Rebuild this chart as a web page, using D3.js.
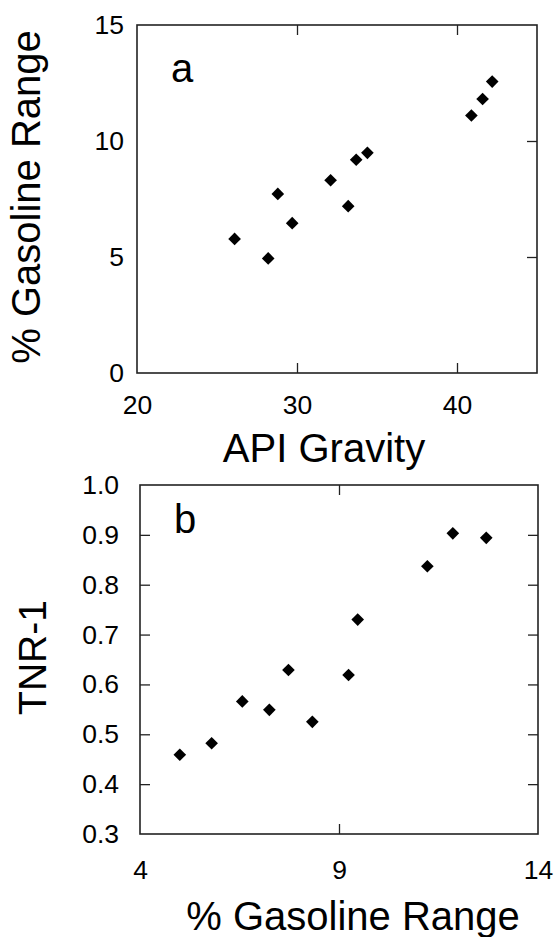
<!DOCTYPE html>
<html>
<head>
<meta charset="utf-8">
<script src="https://cdn.jsdelivr.net/npm/d3@7"></script>
<style>
  body { margin: 0; background: #fff; }
  svg text { font-family: Arial, "Liberation Sans", sans-serif; fill: #000; }
</style>
</head>
<body>
<div id="chart"></div>
<script>
// panel a: API gravity vs % gasoline range
var apiGravity = [26.1, 28.2, 28.8, 29.7, 32.1, 33.2, 33.7, 34.4, 40.9, 41.6, 42.2];
var gasolineA  = [5.78, 4.94, 7.72, 6.46, 8.31, 7.19, 9.19, 9.49, 11.1, 11.81, 12.56];
// panel b: % gasoline range vs TNR-1
var gasolineB  = [5.0, 5.8, 6.57, 7.25, 7.73, 8.33, 9.24, 9.47, 11.22, 11.86, 12.7];
var tnr1       = [0.459, 0.482, 0.566, 0.549, 0.629, 0.525, 0.619, 0.73, 0.837, 0.903, 0.894];

var xTicksA = [20, 30, 40], yTicksA = [0, 5, 10, 15];
var xTicksB = [4, 9, 14],  yTicksB = [0.3, 0.4, 0.5, 0.6, 0.7, 0.8, 0.9, 1.0];

var W = 557, H = 937;
var svg = d3.select("#chart").append("svg")
  .attr("width", W).attr("height", H);

svg.append("rect").attr("width", W).attr("height", H).attr("fill", "#fff");

function panel(opt) {
  var g = svg.append("g").attr("transform", "translate(" + opt.left + "," + opt.top + ")");
  var w = opt.width, h = opt.height;

  var x = d3.scaleLinear().domain(opt.xDomain).range([0, w]);
  var y = d3.scaleLinear().domain(opt.yDomain).range([h, 0]);

  // labels only
  g.append("g").attr("class", "lab")
    .call(d3.axisLeft(y).tickValues(opt.yTicks).tickSize(0).tickPadding(opt.yPad)
      .tickFormat(opt.yFmt));
  g.append("g").attr("class", "lab")
    .attr("transform", "translate(0," + h + ")")
    .call(d3.axisBottom(x).tickValues(opt.xTicks).tickSize(0).tickPadding(opt.xPad)
      .tickFormat(d3.format("d")));

  // inward tick marks
  g.append("g").attr("transform", "translate(" + w + ",0)")
    .call(d3.axisRight(y).tickValues(opt.yInner).tickSize(-10).tickFormat(""));
  if (opt.leftTicks)
    g.append("g").call(d3.axisLeft(y).tickValues(opt.yInner).tickSize(-10).tickFormat(""));
  g.append("g").call(d3.axisTop(x).tickValues(opt.xInner).tickSize(-10).tickFormat(""));
  g.append("g").attr("transform", "translate(0," + h + ")")
    .call(d3.axisBottom(x).tickValues(opt.xInner).tickSize(-10).tickFormat(""));

  g.selectAll(".domain").remove();
  g.selectAll(".tick line").attr("stroke", "#222").attr("stroke-width", 1.3);
  g.selectAll(".lab text").style("font-size", "26.5px");

  g.append("rect")
    .attr("width", w).attr("height", h)
    .attr("fill", "none").attr("stroke", "#222").attr("stroke-width", 1.6);

  var diamond = d3.symbol().type(d3.symbolSquare).size(80);
  g.selectAll("path.pt")
    .data(d3.zip(opt.xs, opt.ys))
    .enter().append("path")
    .attr("class", "pt")
    .attr("d", diamond)
    .attr("transform", function(d) { return "translate(" + x(d[0]) + "," + y(d[1]) + ") rotate(45)"; })
    .attr("fill", "#000");

  g.append("text")
    .attr("x", 34).attr("y", opt.letterY)
    .style("font-size", "40px")
    .text(opt.letter);

  svg.append("text")
    .attr("transform", "translate(" + opt.yTitleX + "," + (opt.top + h / 2 - 2) + ") rotate(-90)")
    .attr("text-anchor", "middle")
    .style("font-size", opt.yTitleSize)
    .text(opt.yTitle);

  svg.append("text")
    .attr("x", opt.xTitleX).attr("y", opt.xTitleY)
    .attr("text-anchor", "middle")
    .style("font-size", "40px")
    .text(opt.xTitle);
}

panel({
  left: 137, top: 25, width: 400, height: 348,
  xDomain: [20, 45], yDomain: [0, 15],
  xTicks: xTicksA, yTicks: yTicksA, xInner: [30, 40], yInner: [5, 10],
  yFmt: d3.format("d"), yPad: 13, xPad: 22, leftTicks: false,
  xs: apiGravity, ys: gasolineA,
  letter: "a", letterY: 57,
  yTitle: "% Gasoline Range", yTitleX: 40, yTitleSize: "40px",
  xTitle: "API Gravity", xTitleX: 324, xTitleY: 462
});

panel({
  left: 140, top: 485, width: 398, height: 349,
  xDomain: [4, 14], yDomain: [0.3, 1.0],
  xTicks: xTicksB, yTicks: yTicksB, xInner: [9], yInner: [0.4, 0.5, 0.6, 0.7, 0.8, 0.9],
  yFmt: d3.format(".1f"), yPad: 21, xPad: 26, leftTicks: true,
  xs: gasolineB, ys: tnr1,
  letter: "b", letterY: 48,
  yTitle: "TNR-1", yTitleX: 46, yTitleSize: "39px",
  xTitle: "% Gasoline Range", xTitleX: 353, xTitleY: 930
});
</script>
</body>
</html>
